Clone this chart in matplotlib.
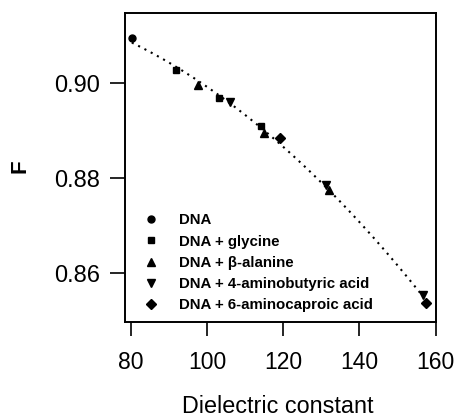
import numpy as np
import matplotlib
matplotlib.use("Agg")
import matplotlib.pyplot as plt

plt.rcParams['font.family'] = ['Liberation Sans', 'DejaVu Sans']

# Data
dna_x = [80.2]
dna_y = [0.9096]
gly_x = [91.8, 103.0, 114.2]
gly_y = [0.9028, 0.8968, 0.8909]
ala_x = [97.5, 114.8, 131.9]
ala_y = [0.8996, 0.8895, 0.8775]
gaba_x = [105.9, 131.3, 156.7]
gaba_y = [0.8961, 0.8786, 0.8554]
cap_x = [119.2, 157.4]
cap_y = [0.8884, 0.8537]

labels = ["DNA", "DNA + glycine", "DNA + β-alanine",
          "DNA + 4-aminobutyric acid", "DNA + 6-aminocaproic acid"]
markers = ["o", "s", "^", "v", "D"]
msizes = [5, 5, 6, 6, 5]

xticks = [80, 100, 120, 140, 160]
yticks = [0.86, 0.88, 0.90]

fig = plt.figure(figsize=(4.57, 4.18), dpi=100)
ax = fig.add_axes([0.273, 0.2297, 0.953 - 0.273, 0.969 - 0.2297])

# dotted trend curve through all points
all_x = np.array(dna_x + gly_x + ala_x + gaba_x + cap_x)
all_y = np.array(dna_y + gly_y + ala_y + gaba_y + cap_y)
coef = np.polyfit(all_x, all_y, 2)
xs = np.linspace(all_x.min(), all_x.max(), 200)
ax.plot(xs, np.polyval(coef, xs), color='black', lw=1.5,
        linestyle=(0, (1, 2.4)), zorder=1)

series = [(dna_x, dna_y), (gly_x, gly_y), (ala_x, ala_y), (gaba_x, gaba_y), (cap_x, cap_y)]
for (sx, sy), m, ms, lab in zip(series, markers, msizes, labels):
    ax.plot(sx, sy, linestyle='none', marker=m, markersize=ms, color='black',
            label=lab, zorder=3)

ax.set_xlim(78.34, 160)
ax.set_ylim(0.8497, 0.9148)
ax.set_xticks(xticks)
ax.set_xticklabels([str(t) for t in xticks])
ax.set_yticks(yticks)
ax.set_yticklabels([f"{t:.2f}" for t in yticks])

for s in ax.spines.values():
    s.set_linewidth(1.4)
ax.tick_params(axis='x', length=10, width=1.2, pad=11, labelsize=16.5)
ax.tick_params(axis='y', length=11, width=1.2, pad=7, labelsize=17)

ax.set_xlabel("Dielectric constant", fontsize=16.8, va='center')
ax.xaxis.set_label_coords(0.493, -0.275)
ax.set_ylabel("F", fontsize=16, fontweight='bold', va='center')
ax.yaxis.set_label_coords(-0.337, 0.505)

leg = ax.legend(loc='lower left', bbox_to_anchor=(0.03, 0.0), frameon=False,
                prop={'weight': 'bold', 'size': 10.8}, handlelength=1.0,
                handletextpad=1.35, labelspacing=0.48, borderaxespad=0.25)

fig.savefig("out.png", dpi=100)
